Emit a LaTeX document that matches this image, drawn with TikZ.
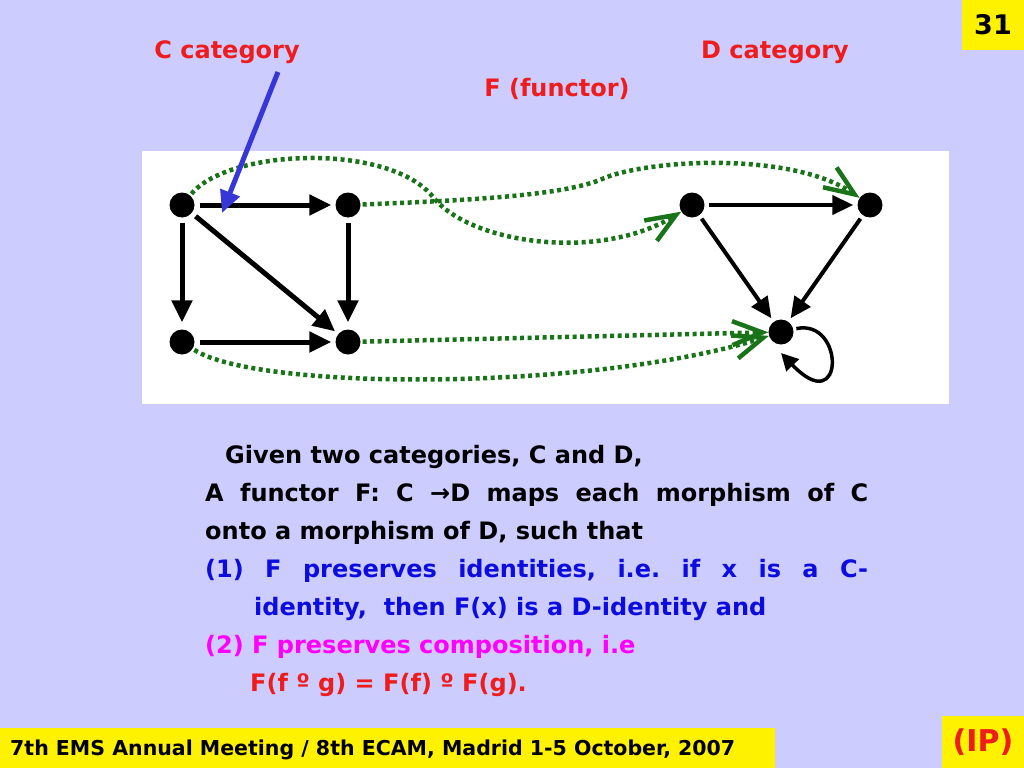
\documentclass[tikz,border=0pt]{standalone}
\usepackage{fontspec}
\setmainfont{DejaVu Sans}
\usetikzlibrary{arrows.meta}
\definecolor{slidebg}{RGB}{204,204,255}
\definecolor{fgreen}{RGB}{25,115,25}
\definecolor{tred}{RGB}{238,28,28}
\definecolor{tblue}{RGB}{12,12,225}
\definecolor{tmagenta}{RGB}{255,0,255}
\definecolor{pblue}{RGB}{55,55,215}
\frenchspacing
\tikzset{
  dot/.style={circle,fill=black,inner sep=0pt,minimum size=25pt},
  mor/.style={line width=5pt,-{Triangle[length=22pt,width=20pt]},shorten <=5pt,shorten >=4pt},
  morthin/.style={line width=4pt,-{Triangle[length=21pt,width=19pt]},shorten <=4pt,shorten >=4pt},
  fun/.style={fgreen,line width=4.5pt,dash pattern=on 4pt off 3.5pt,
    -{Straight Barb[length=30pt,width=24pt,line width=4.5pt]},shorten <=2pt},
  txt/.style={anchor=base west,inner sep=0pt,font=\bfseries\fontsize{24pt}{28pt}\selectfont},
  lbl/.style={anchor=base,inner sep=0pt,text=tred,font=\bfseries\fontsize{24pt}{28pt}\selectfont},
}
\begin{document}
\begin{tikzpicture}[x=1pt,y=1pt]
\fill[slidebg] (0,0) rectangle (1024,-768);
\useasboundingbox (0,0) rectangle (1024,-768);
\fill[yellow] (962,0) rectangle (1024,-50);
\node[font=\bfseries\fontsize{27pt}{30pt}\selectfont] (num) at (993,-25) {31};
\node[lbl] (Clabel) at (227,-59) {C category};
\node[lbl] (Dlabel) at (775,-59) {D category};
\node[lbl] (Flabel) at (557,-96) {F (functor)};
\fill[white] (142,-151) rectangle (949,-404);
\node[dot] (a) at (182,-205) {};
\node[dot] (b) at (348,-205) {};
\node[dot] (c) at (182,-342) {};
\node[dot] (d) at (348,-342) {};
\node[dot] (p) at (692,-205) {};
\node[dot] (q) at (870,-205) {};
\node[dot] (r) at (781,-332) {};
\draw[mor] (a) -- (b);
\draw[mor,shorten >=7pt] (a) -- (c);
\draw[mor] (a) -- (d);
\draw[mor,shorten >=7pt] (b) -- (d);
\draw[mor] (c) -- (d);
\draw[morthin] (p) -- (q);
\draw[morthin] (p) -- (r);
\draw[morthin] (q) -- (r);
\coordinate (rloop) at (781,-353);
\draw[line width=3.5pt,-{Triangle[length=17pt,width=17pt]},shorten <=3pt]
  (r) .. controls (845,-318) and (845,-420) .. (rloop);
\draw[fun] (a) .. controls (230,-148) and (390,-143) .. (433,-197)
  .. controls (470,-244) and (600,-262) .. (p);
\draw[fun] (b) .. controls (480,-200) and (560,-195) .. (600,-180)
  .. controls (640,-160) and (790,-150) .. (q);
\draw[fun] (d) -- (r);
\draw[fun] (c) .. controls (260,-392) and (600,-390) .. (r);
\coordinate (cfrom) at (278,-72);
\coordinate (cto) at (222,-213);
\draw[pblue,line width=5pt,-{Triangle[length=22pt,width=20pt]}] (cfrom) -- (cto);
\node[txt] (l1) at (225,-463) {Given two categories, C and D,};
\node[txt] (l2) at (205,-501) {\makebox[663pt][s]{A functor F: C →D maps each morphism of C}};
\node[txt] (l3) at (205,-539) {onto a morphism of D, such that};
\node[txt,text=tblue] (l4) at (205,-577) {\makebox[663pt][s]{(1) F preserves identities, i.e. if x is a C-}};
\node[txt,text=tblue] (l5) at (254,-615) {identity,\ \ then F(x) is a D-identity and};
\node[txt,text=tmagenta] (l6) at (205,-653) {(2) F preserves composition, i.e};
\node[txt,text=tred] (l7) at (250,-691) {F(f º g) = F(f) º F(g).};
\fill[yellow] (0,-728) rectangle (775,-768);
\node[anchor=base west,inner sep=0pt,font=\bfseries\fontsize{20.5pt}{24pt}\selectfont] (foot) at (10,-755)
  {7th EMS Annual Meeting / 8th ECAM, Madrid 1-5 October, 2007};
\fill[yellow] (942,-716) rectangle (1024,-768);
\node[text=tred,font=\bfseries\fontsize{30pt}{34pt}\selectfont] (ip) at (983,-742) {(IP)};
\end{tikzpicture}
\end{document}
